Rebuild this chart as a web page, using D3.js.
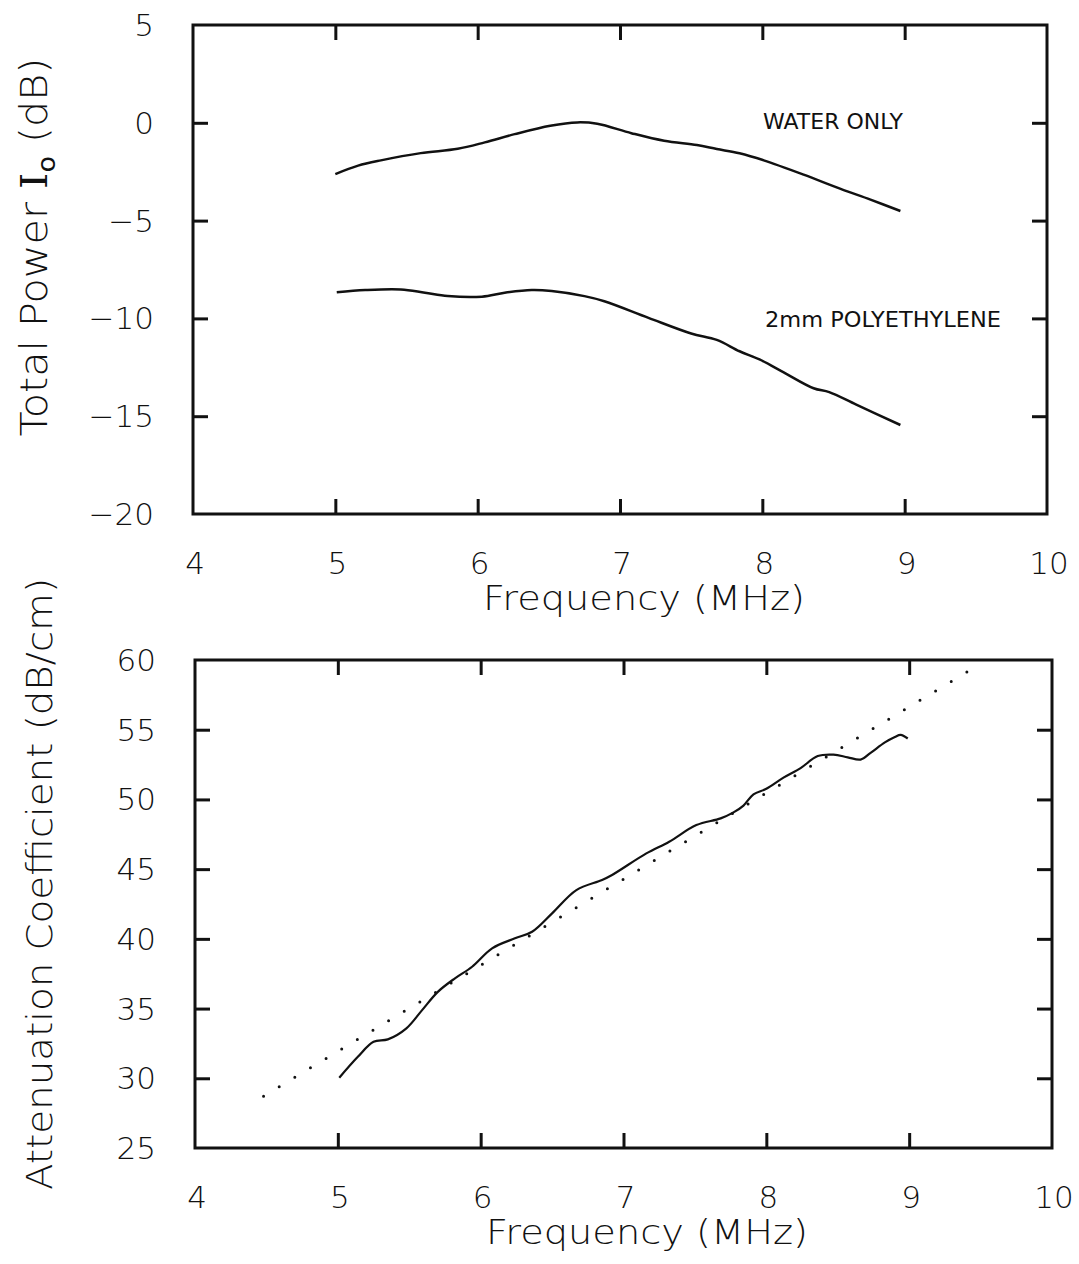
<!DOCTYPE html>
<html>
<head>
<meta charset="utf-8">
<script src="https://cdn.jsdelivr.net/npm/d3@7"></script>
<style>
  html, body { margin: 0; padding: 0; background: #fff; }
  svg { display: block; }
  text { font-family: "DejaVu Sans", sans-serif; fill: #111; }
</style>
</head>
<body>
<svg id="chart" width="1079" height="1264"></svg>
<script>
// ---------- data ----------
const xTicks = [4, 5, 6, 7, 8, 9, 10];
const topYTicks = [5, 0, -5, -10, -15, -20];
const botYTicks = [60, 55, 50, 45, 40, 35, 30, 25];

const freqWater = [5.00,5.16,5.32,5.60,5.86,6.05,6.26,6.51,6.70,6.84,7.08,7.31,7.54,7.68,7.84,8.01,8.29,8.55,8.76,8.97];
const waterOnly = [-2.62,-2.19,-1.92,-1.55,-1.33,-1.00,-0.58,-0.15,0.02,-0.05,-0.53,-0.92,-1.14,-1.34,-1.56,-1.92,-2.65,-3.38,-3.93,-4.51];

const freqPoly = [5.01,5.21,5.46,5.63,5.79,6.03,6.19,6.38,6.52,6.75,6.89,7.20,7.50,7.68,7.84,7.98,8.15,8.36,8.47,8.66,8.97];
const polyethylene = [-8.66,-8.55,-8.52,-8.69,-8.86,-8.89,-8.69,-8.55,-8.60,-8.86,-9.12,-9.97,-10.77,-11.10,-11.68,-12.10,-12.76,-13.57,-13.77,-14.41,-15.45];

const freqAtten = [5.01,5.14,5.25,5.35,5.48,5.59,5.70,5.82,5.94,6.08,6.24,6.36,6.50,6.67,6.85,6.92,7.16,7.32,7.51,7.68,7.77,7.84,7.91,8.00,8.12,8.24,8.36,8.47,8.57,8.66,8.73,8.83,8.90,8.94,8.99];
const attenuation = [30.04,31.54,32.62,32.79,33.58,34.89,36.20,37.17,38.00,39.32,40.04,40.51,41.83,43.50,44.22,44.58,46.13,46.97,48.16,48.64,49.07,49.56,50.37,50.76,51.56,52.25,53.11,53.21,53.02,52.86,53.34,54.09,54.48,54.63,54.37];

const freqFit = [4.48, 9.46];
const attenFit = [28.72, 59.48];

// ---------- drawing ----------
const svg = d3.select("#chart");

function panel(box, yDomain, yTicks) {
  const x = d3.scaleLinear().domain([4, 10]).range([box.left, box.right]);
  const y = d3.scaleLinear().domain(yDomain).range([box.bottom, box.top]);
  const g = svg.append("g");
  const inner = xTicks.filter(d => d > 4 && d < 10);
  const innerY = yTicks.filter(d => d > yDomain[0] && d < yDomain[1]);
  const tl = 15;

  const axB = d3.axisBottom(x).tickValues(inner).tickSize(-tl).tickFormat("");
  const axT = d3.axisTop(x).tickValues(inner).tickSize(-tl).tickFormat("");
  const axL = d3.axisLeft(y).tickValues(innerY).tickSize(-tl).tickFormat("");
  const axR = d3.axisRight(y).tickValues(innerY).tickSize(-tl).tickFormat("");
  [[axB, `translate(0,${box.bottom})`], [axT, `translate(0,${box.top})`],
   [axL, `translate(${box.left},0)`], [axR, `translate(${box.right},0)`]].forEach(([ax, tr]) => {
    const a = g.append("g").attr("transform", tr).call(ax);
    a.select(".domain").remove();
    a.selectAll("line").attr("stroke", "#111").attr("stroke-width", 3);
  });

  g.append("rect").attr("x", box.left).attr("y", box.top)
    .attr("width", box.right - box.left).attr("height", box.bottom - box.top)
    .attr("fill", "none").attr("stroke", "#111").attr("stroke-width", 3);

  g.selectAll(".xl").data(xTicks).enter().append("text")
    .attr("x", d => x(d) + 2).attr("y", box.bottom + 60)
    .attr("text-anchor", "middle").attr("font-size", 31).attr("font-weight", 200)
    .text(d => d);
  g.selectAll(".yl").data(yTicks).enter().append("text")
    .attr("x", box.left - 39).attr("y", d => y(d) + 11)
    .attr("text-anchor", "end").attr("font-size", 31).attr("font-weight", 200)
    .text(d => d < 0 ? "\u2212" + Math.abs(d) : d);

  g.append("text").attr("x", box.xTitleX).attr("y", box.bottom + 96)
    .attr("text-anchor", "middle").attr("font-size", 33).attr("font-weight", 200)
    .attr("textLength", 322).attr("lengthAdjust", "spacingAndGlyphs")
    .text("Frequency (MHz)");
  return {x, y, g};
}

// top panel
const pTop = panel({left: 193, right: 1047, top: 25, bottom: 514, xTitleX: 644}, [-20, 5], topYTicks);
const lineTop = d3.line().curve(d3.curveCatmullRom);
pTop.g.append("path")
  .attr("d", lineTop(freqWater.map((f, i) => [pTop.x(f), pTop.y(waterOnly[i])])))
  .attr("fill", "none").attr("stroke", "#111").attr("stroke-width", 2.5);
pTop.g.append("path")
  .attr("d", lineTop(freqPoly.map((f, i) => [pTop.x(f), pTop.y(polyethylene[i])])))
  .attr("fill", "none").attr("stroke", "#111").attr("stroke-width", 2.5);
pTop.g.append("text").attr("x", 763).attr("y", 129).attr("font-size", 21)
  .attr("textLength", 140).attr("lengthAdjust", "spacingAndGlyphs")
  .text("WATER ONLY");
pTop.g.append("text").attr("x", 765).attr("y", 327).attr("font-size", 21)
  .attr("textLength", 236).attr("lengthAdjust", "spacingAndGlyphs")
  .text("2mm POLYETHYLENE");

const t1 = pTop.g.append("text").attr("transform", "translate(47,247) rotate(-90)")
  .attr("text-anchor", "middle").attr("font-size", 37).attr("font-weight", 200)
  .attr("textLength", 379).attr("lengthAdjust", "spacingAndGlyphs");
t1.append("tspan").text("Total Power ");
t1.append("tspan").attr("font-family", "DejaVu Serif, serif").attr("font-weight", 400).text("I");
t1.append("tspan").attr("font-size", 24).attr("font-weight", 400).attr("dy", 8).text("o");
t1.append("tspan").attr("dy", -8).text(" (dB)");

// bottom panel
const pBot = panel({left: 195, right: 1052, top: 660, bottom: 1148, xTitleX: 647}, [25, 60], botYTicks);
pBot.g.append("path")
  .attr("d", d3.line()([[pBot.x(freqFit[0]), pBot.y(attenFit[0])], [pBot.x(freqFit[1]), pBot.y(attenFit[1])]]))
  .attr("fill", "none").attr("stroke", "#111").attr("stroke-width", 3)
  .attr("stroke-linecap", "round").attr("stroke-dasharray", "0 18.25");
pBot.g.append("path")
  .attr("d", d3.line().curve(d3.curveCatmullRom)(freqAtten.map((f, i) => [pBot.x(f), pBot.y(attenuation[i])])))
  .attr("fill", "none").attr("stroke", "#111").attr("stroke-width", 2.2);

pBot.g.append("text").attr("transform", "translate(52,884) rotate(-90)")
  .attr("text-anchor", "middle").attr("font-size", 36).attr("font-weight", 200)
  .attr("textLength", 612).attr("lengthAdjust", "spacingAndGlyphs")
  .text("Attenuation Coefficient (dB/cm)");
</script>
</body>
</html>
